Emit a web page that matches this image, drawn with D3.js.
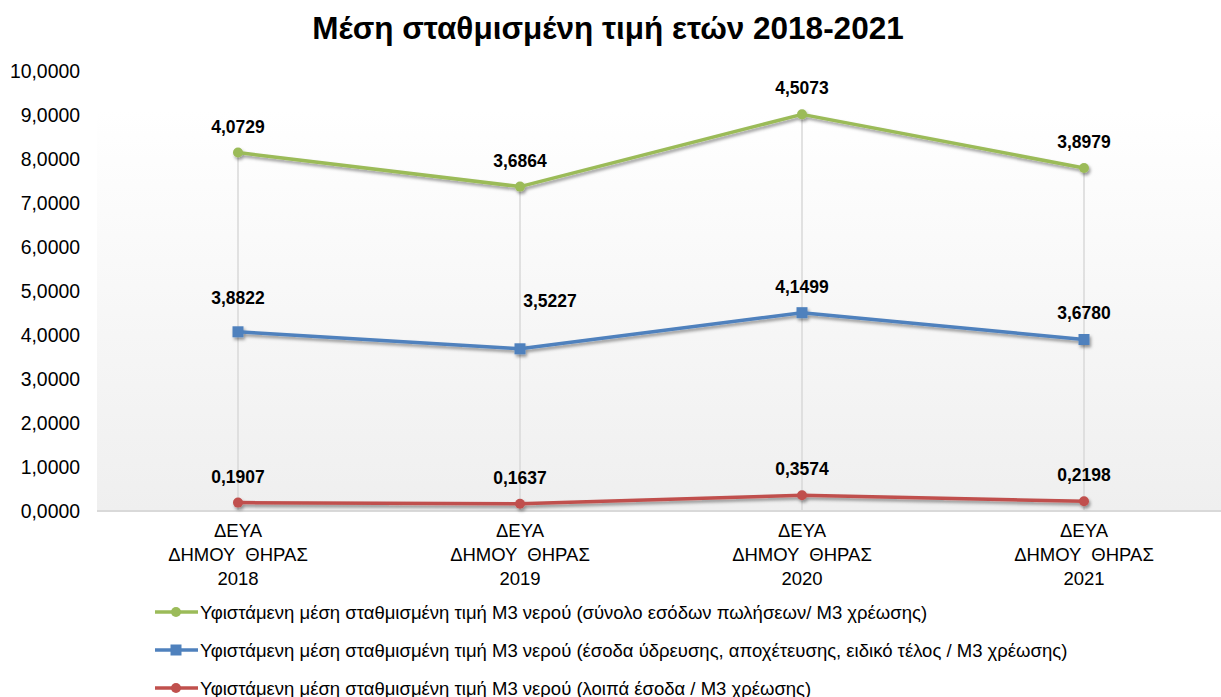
<!DOCTYPE html>
<html>
<head>
<meta charset="utf-8">
<script src="https://cdn.jsdelivr.net/npm/d3@7"></script>
<style>
  body { margin: 0; background: #fff; }
  text { font-family: "Liberation Sans", Arial, sans-serif; fill: #000; }
</style>
</head>
<body>
<svg id="chart" width="1221" height="697"></svg>
<script>
// data
const years = ['2018', '2019', '2020', '2021'];
const catLines = ['ΔΕΥΑ', 'ΔΗΜΟΥ  ΘΗΡΑΣ'];
const otherRev = [0.1907, 0.1637, 0.3574, 0.2198];
const waterRev = [3.8822, 3.5227, 4.1499, 3.6780];
const totalRev = [4.0729, 3.6864, 4.5073, 3.8979];
const yTicks = [0, 1, 2, 3, 4, 5, 6, 7, 8, 9, 10];
const seriesNames = [
  'Υφιστάμενη μέση σταθμισμένη τιμή Μ3 νερού (σύνολο εσόδων πωλήσεων/ Μ3 χρέωσης)',
  'Υφιστάμενη μέση σταθμισμένη τιμή Μ3 νερού (έσοδα ύδρευσης, αποχέτευσης, ειδικό τέλος / Μ3 χρέωσης)',
  'Υφιστάμενη μέση σταθμισμένη τιμή Μ3 νερού (λοιπά έσοδα / Μ3 χρέωσης)'
];

const svg = d3.select('#chart');
const plot = {left: 97, right: 1225, top: 71, bottom: 511};

// stacked line chart (Excel style)
const rows = years.map((y, i) => ({year: y, red: otherRev[i], blue: waterRev[i], green: totalRev[i]}));
const stack = d3.stack().keys(['red', 'blue', 'green']);
const layers = stack(rows);

const series = {
  green: {color: '#9bbb59', marker: 'circle', name: seriesNames[0]},
  blue: {color: '#4f81bd', marker: 'square', name: seriesNames[1]},
  red: {color: '#c0504d', marker: 'circle', name: seriesNames[2]}
};

const x = d3.scaleBand().domain(years).range([plot.left, plot.right]);
const cx = d => x(d) + x.bandwidth() / 2;
const y = d3.scaleLinear().domain([0, 10]).range([plot.bottom, plot.top]);

const defs = svg.append('defs');
const grad = defs.append('linearGradient').attr('id', 'bg').attr('x1', 0).attr('y1', 0).attr('x2', 0).attr('y2', 1);
grad.append('stop').attr('offset', '0%').attr('stop-color', '#ffffff');
grad.append('stop').attr('offset', '100%').attr('stop-color', '#efefef');
const shadow = defs.append('filter').attr('id', 'shadow').attr('x', '-20%').attr('y', '-50%').attr('width', '140%').attr('height', '200%');
shadow.append('feDropShadow').attr('dx', 1.5).attr('dy', 2.5).attr('stdDeviation', 1.8)
  .attr('flood-color', '#000').attr('flood-opacity', 0.4);

// plot background
svg.append('rect')
  .attr('x', plot.left).attr('y', y(9.1))
  .attr('width', plot.right - plot.left).attr('height', plot.bottom - y(9.1))
  .attr('fill', 'url(#bg)');

// title
svg.append('text')
  .attr('x', 608).attr('y', 39)
  .attr('text-anchor', 'middle')
  .style('font-size', '31.5px').style('font-weight', 'bold')
  .text('Μέση σταθμισμένη τιμή ετών 2018-2021');

// y axis labels
svg.append('g').selectAll('text')
  .data(yTicks).enter().append('text')
  .attr('x', 80).attr('y', d => y(d) + 7)
  .attr('text-anchor', 'end')
  .style('font-size', '19.4px')
  .text(d => d3.format('.4f')(d).replace('.', ','));

// drop lines from the top series
const topLayer = layers[layers.length - 1];
svg.append('g').selectAll('line')
  .data(topLayer).enter().append('line')
  .attr('x1', d => cx(d.data.year)).attr('x2', d => cx(d.data.year))
  .attr('y1', d => y(d[1])).attr('y2', plot.bottom)
  .attr('stroke', '#d9d9d9').attr('stroke-width', 1.5);

// x axis line
svg.append('line')
  .attr('x1', plot.left).attr('x2', plot.right)
  .attr('y1', plot.bottom).attr('y2', plot.bottom)
  .attr('stroke', '#d9d9d9').attr('stroke-width', 2);

// category labels
const cat = svg.append('g').selectAll('text')
  .data(years).enter().append('text')
  .attr('text-anchor', 'middle')
  .style('font-size', '18.5px');
cat.append('tspan').attr('x', d => cx(d)).attr('y', 537).text(catLines[0]);
cat.append('tspan').attr('x', d => cx(d)).attr('y', 561).style('white-space', 'pre').text(catLines[1]);
cat.append('tspan').attr('x', d => cx(d)).attr('y', 585).text(d => d);

const line = d3.line().x(d => cx(d.data.year)).y(d => y(d[1]));

function drawMarker(g, type, color, px, py) {
  if (type === 'square') {
    g.append('rect').attr('x', px - 5.5).attr('y', py - 5.5).attr('width', 11).attr('height', 11).attr('fill', color);
  } else {
    g.append('circle').attr('cx', px).attr('cy', py).attr('r', 5).attr('fill', color);
  }
}

// label nudges [dx, dy] (manual moves as in the original)
const nudge = {blue: [[0, -8], [30, -22], [0, 0], [0, 0]]};

layers.forEach(layer => {
  const s = series[layer.key];
  const g = svg.append('g').attr('filter', 'url(#shadow)');
  g.append('path').datum(layer)
    .attr('d', line)
    .attr('fill', 'none').attr('stroke', s.color).attr('stroke-width', 3.5)
    .attr('stroke-linejoin', 'round');
  layer.forEach(d => drawMarker(g, s.marker, s.color, cx(d.data.year), y(d[1])));
});

layers.forEach(layer => {
  const n = nudge[layer.key] || [[0, 0], [0, 0], [0, 0], [0, 0]];
  svg.append('g').selectAll('text')
    .data(layer).enter().append('text')
    .attr('x', (d, i) => cx(d.data.year) + n[i][0])
    .attr('y', (d, i) => y(d[1]) - 20 + n[i][1])
    .attr('text-anchor', 'middle')
    .style('font-size', '17.5px').style('font-weight', 'bold')
    .text(d => d3.format('.4f')(d.data[layer.key]).replace('.', ','));
});

// legend
const legendRows = ['green', 'blue', 'red'];
const lg = svg.append('g');
legendRows.forEach((k, i) => {
  const s = series[k];
  const ly = 612 + i * 38;
  lg.append('line').attr('x1', 155).attr('x2', 198).attr('y1', ly).attr('y2', ly)
    .attr('stroke', s.color).attr('stroke-width', 3.5);
  drawMarker(lg, s.marker, s.color, 176, ly);
  lg.append('text').attr('x', 200).attr('y', ly + 6.5)
    .style('font-size', '18.5px')
    .text(s.name);
});
</script>
</body>
</html>
